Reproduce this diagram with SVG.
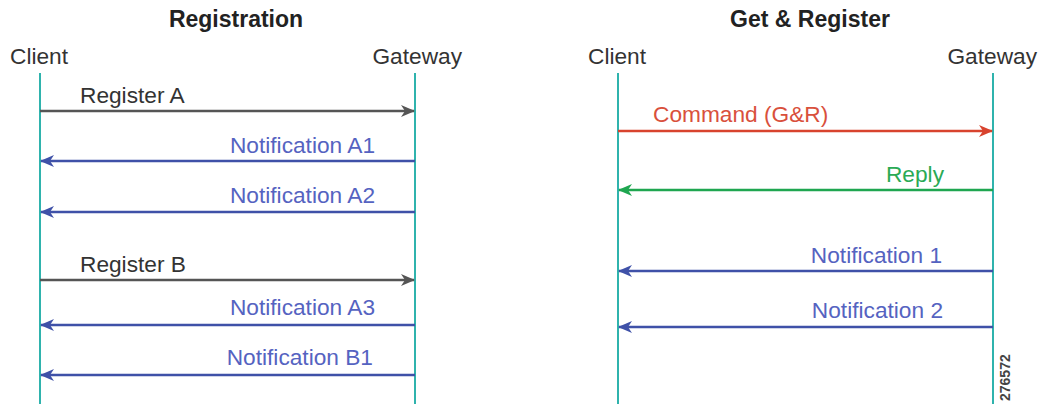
<svg xmlns="http://www.w3.org/2000/svg" width="1041" height="404" viewBox="0 0 1041 404">
<style>
text{font-family:"Liberation Sans",Arial,sans-serif;font-size:22.7px;fill:#333}
.title{font-weight:bold;font-size:23px;fill:#222}
.life{stroke:#2fb3ad;stroke-width:2}
.msg{stroke-width:2.5;fill:none}
.gray{stroke:#555}
.blue{stroke:#3f51a8}
.red{stroke:#d8432e}
.green{stroke:#1fa650}
.tblue{fill:#5563c1}
.tred{fill:#d9503c}
.tgreen{fill:#2aaa55}
</style>
<defs>
<marker id="ag" viewBox="0 0 14 12" refX="13" refY="6" markerWidth="14" markerHeight="12" markerUnits="userSpaceOnUse" orient="auto"><path d="M0,0 L14,6 L0,12 L4,6 Z" fill="#555"/></marker>
<marker id="ab" viewBox="0 0 14 12" refX="13" refY="6" markerWidth="14" markerHeight="12" markerUnits="userSpaceOnUse" orient="auto"><path d="M0,0 L14,6 L0,12 L4,6 Z" fill="#3f51a8"/></marker>
<marker id="ar" viewBox="0 0 14 12" refX="13" refY="6" markerWidth="14" markerHeight="12" markerUnits="userSpaceOnUse" orient="auto"><path d="M0,0 L14,6 L0,12 L4,6 Z" fill="#d8432e"/></marker>
<marker id="agr" viewBox="0 0 14 12" refX="13" refY="6" markerWidth="14" markerHeight="12" markerUnits="userSpaceOnUse" orient="auto"><path d="M0,0 L14,6 L0,12 L4,6 Z" fill="#1fa650"/></marker>
</defs>

<g id="registration">
<text class="title" x="236" y="27" text-anchor="middle">Registration</text>
<g id="reg-client"><text x="10" y="64">Client</text><line class="life" x1="40" y1="73" x2="40" y2="404"/></g>
<g id="reg-gateway"><text x="462" y="64" text-anchor="end">Gateway</text><line class="life" x1="415" y1="73" x2="415" y2="404"/></g>
</g>

<g id="getregister">
<text class="title" x="810" y="27" text-anchor="middle">Get &amp; Register</text>
<g id="gr-client"><text x="588" y="64">Client</text><line class="life" x1="618" y1="73" x2="618" y2="404"/></g>
<g id="gr-gateway"><text x="1037" y="64" text-anchor="end">Gateway</text><line class="life" x1="993" y1="73" x2="993" y2="404"/></g>
<text x="1010" y="401" transform="rotate(-90 1010 401)" style="font-size:14px;font-weight:bold;fill:#444">276572</text>
</g>

<g id="connectors">
<line class="msg gray" x1="40" y1="111" x2="414" y2="111" marker-end="url(#ag)"/>
<text x="80" y="103">Register A</text>
<line class="msg blue" x1="415" y1="161" x2="41" y2="161" marker-end="url(#ab)"/>
<text class="tblue" x="375" y="153" text-anchor="end">Notification A1</text>
<line class="msg blue" x1="415" y1="212" x2="41" y2="212" marker-end="url(#ab)"/>
<text class="tblue" x="375" y="203" text-anchor="end">Notification A2</text>
<line class="msg gray" x1="40" y1="280" x2="414" y2="280" marker-end="url(#ag)"/>
<text x="80" y="272">Register B</text>
<line class="msg blue" x1="415" y1="325" x2="41" y2="325" marker-end="url(#ab)"/>
<text class="tblue" x="375" y="315" text-anchor="end">Notification A3</text>
<line class="msg blue" x1="415" y1="375" x2="41" y2="375" marker-end="url(#ab)"/>
<text class="tblue" x="373" y="365" text-anchor="end">Notification B1</text>

<line class="msg red" x1="618" y1="131" x2="992" y2="131" marker-end="url(#ar)"/>
<text class="tred" x="653" y="122">Command (G&amp;R)</text>
<line class="msg green" x1="993" y1="190" x2="619" y2="190" marker-end="url(#agr)"/>
<text class="tgreen" x="944" y="182" text-anchor="end">Reply</text>
<line class="msg blue" x1="993" y1="271" x2="619" y2="271" marker-end="url(#ab)"/>
<text class="tblue" x="942" y="263" text-anchor="end">Notification 1</text>
<line class="msg blue" x1="993" y1="327" x2="619" y2="327" marker-end="url(#ab)"/>
<text class="tblue" x="943" y="318" text-anchor="end">Notification 2</text>
</g>
</svg>
